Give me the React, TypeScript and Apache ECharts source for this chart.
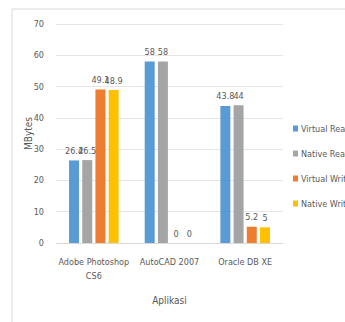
import React, { useEffect, useRef } from "react";
import * as echarts from "echarts";

const categories = ["Adobe Photoshop\nCS6", "AutoCAD 2007", "Oracle DB XE"];
const seriesNames = ["Virtual Read", "Native Read", "Virtual Write", "Native Write"];
const virtualRead = [26.4, 58, 43.8];
const nativeRead = [26.5, 58, 44];
const virtualWrite = [49.1, 0, 5.2];
const nativeWrite = [48.9, 0, 5];
const colors = ["#5B9BD5", "#A5A5A5", "#ED7D31", "#FFC000"];
const FONT = "'Liberation Sans Narrow', 'DejaVu Sans Condensed', Roboto, sans-serif";

export default function App() {
  const ref = useRef<HTMLDivElement>(null);
  useEffect(() => {
    if (!ref.current) return;
    document.body.style.margin = "0";
    document.body.style.overflow = "hidden";
    const chart = echarts.init(ref.current, undefined, { renderer: "svg" });
    const data = [virtualRead, nativeRead, virtualWrite, nativeWrite];
    chart.setOption({
      animation: false,
      textStyle: { fontFamily: FONT, color: "#595959" },
      graphic: [
        {
          type: "rect",
          shape: { x: 12, y: 9, width: 400, height: 400 },
          style: { fill: "none", stroke: "#D9D9D9", lineWidth: 1 },
          silent: true,
        },
      ],
      grid: { left: 56, right: 62, top: 24, bottom: 79 },
      legend: {
        orient: "vertical",
        left: 293,
        top: 124,
        padding: 0,
        itemWidth: 5,
        itemHeight: 6,
        itemGap: 16,
        icon: "rect",
        data: seriesNames,
        textStyle: {
          fontFamily: FONT,
          fontSize: 9,
          color: "#595959",
          width: 80,
          overflow: "none",
          padding: [0, 0, 0, -2],
        },
      },
      xAxis: {
        type: "category",
        data: categories,
        name: "Aplikasi",
        nameLocation: "middle",
        nameGap: 52,
        nameMoveOverlap: false,
        nameTextStyle: { fontFamily: FONT, fontSize: 10, color: "#595959" },
        axisTick: { show: false },
        axisLine: { lineStyle: { color: "#D9D9D9" } },
        axisLabel: { interval: 0, fontFamily: FONT, fontSize: 9, color: "#595959", margin: 12, lineHeight: 14 },
      },
      yAxis: {
        type: "value",
        min: 0,
        max: 70,
        interval: 10,
        name: "MBytes",
        nameLocation: "middle",
        nameGap: 23,
        nameMoveOverlap: false,
        nameTextStyle: { fontFamily: FONT, fontSize: 10, color: "#595959" },
        axisLine: { show: false },
        axisTick: { show: false },
        splitLine: { lineStyle: { color: "#E6E6E6" } },
        axisLabel: { fontFamily: FONT, fontSize: 9, color: "#595959", margin: 12 },
      },
      series: seriesNames.map((name, i) => ({
        name,
        type: "bar",
        data: data[i],
        barWidth: 10,
        barGap: "32%",
        itemStyle: { color: colors[i] },
        label: {
          show: true,
          position: "top",
          distance: 5,
          fontFamily: FONT,
          fontSize: 9,
          color: "#595959",
        },
      })),
    });
    return () => chart.dispose();
  }, []);
  return <div ref={ref} style={{ width: 345, height: 322 }} />;
}
